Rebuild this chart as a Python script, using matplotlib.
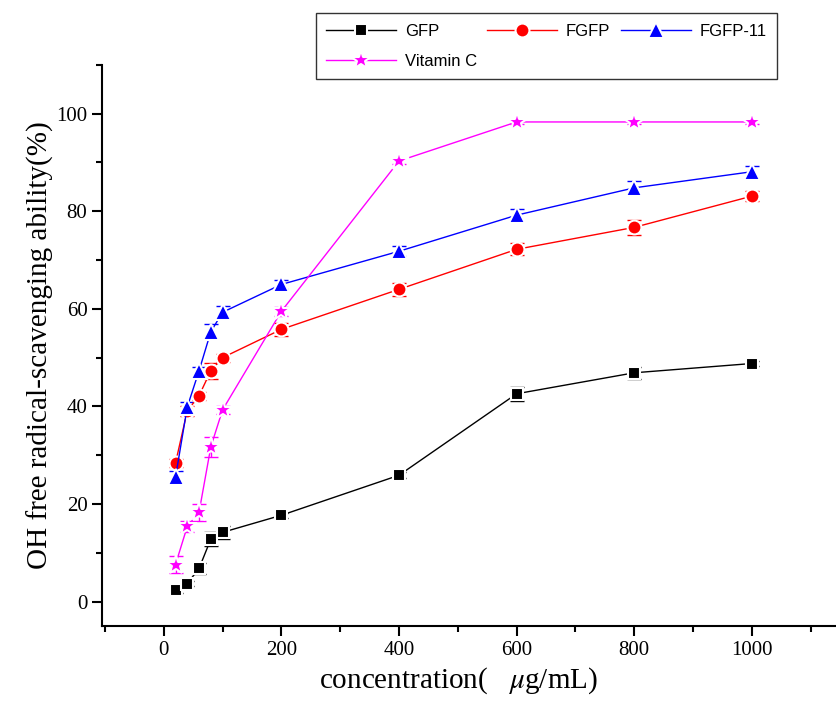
import matplotlib
matplotlib.use("Agg")
import matplotlib.pyplot as plt
import numpy as np
from matplotlib.ticker import MultipleLocator

plt.rcParams["mathtext.fontset"] = "stix"

conc = [20, 40, 60, 80, 100, 200, 400, 600, 800, 1000]
gfp = [2.3, 3.7, 6.8, 12.8, 14.2, 17.7, 25.9, 42.6, 46.9, 48.8]
gfp_err = [0.5, 0.5, 1.2, 1.4, 1.3, 0.5, 0.6, 1.4, 1.2, 0.6]
fgfp = [28.4, 39.1, 42.2, 47.3, 50.0, 55.8, 64.0, 72.2, 76.7, 83.1]
fgfp_err = [0.8, 1.0, 0.8, 1.6, 0.8, 1.4, 1.4, 1.2, 1.6, 1.1]
fgfp11 = [25.5, 39.9, 47.3, 55.3, 59.3, 65.0, 71.8, 79.2, 84.8, 88.1]
fgfp11_err = [1.2, 1.0, 0.8, 1.5, 1.3, 1.0, 1.0, 1.2, 1.4, 1.2]
vitc = [7.6, 15.4, 18.3, 31.7, 39.3, 59.5, 90.3, 98.3, 98.3, 98.3]
vitc_err = [1.8, 1.1, 1.8, 2.0, 0.8, 0.9, 0.6, 0.5, 0.5, 0.5]

labels = ["GFP", "FGFP", "FGFP-11", "Vitamin C"]
colors = ["black", "red", "blue", "magenta"]
markers = ["s", "o", "^", "*"]
msizes = [9, 10, 11, 15]

fig = plt.figure(figsize=(8.36, 7.05), dpi=100)
ax = fig.add_axes([0.122, 0.112, 0.878, 0.796])

series = [(gfp, gfp_err), (fgfp, fgfp_err), (fgfp11, fgfp11_err), (vitc, vitc_err)]
handles = []
for (y, e), lab, c, m, ms in zip(series, labels, colors, markers, msizes):
    ax.errorbar(conc, y, yerr=e, fmt="none", ecolor=c, elinewidth=1, capsize=5, capthick=1, zorder=2)
    h, = ax.plot(conc, y, color=c, lw=1, marker=m, ms=ms, mfc=c, mec="white", mew=1.5, label=lab, zorder=3)
    handles.append(h)

ax.set_xlim(-105, 1143)
ax.set_ylim(-5, 110)
ax.xaxis.set_minor_locator(MultipleLocator(100))
ax.yaxis.set_minor_locator(MultipleLocator(10))
ax.set_yticks([0, 20, 40, 60, 80, 100])
ax.set_xticks([0, 200, 400, 600, 800, 1000])
for s in ["top", "right"]:
    ax.spines[s].set_visible(False)
for s in ["left", "bottom"]:
    ax.spines[s].set_linewidth(1.5)
ax.tick_params(which="major", direction="out", length=7, width=1.5, labelsize=15)
ax.tick_params(which="minor", direction="out", length=4, width=1.5)
for t in ax.get_xticklabels() + ax.get_yticklabels():
    t.set_fontfamily("Liberation Serif")

ax.set_xlabel("concentration(   $\\mu$g/mL)", fontsize=21, fontfamily="Liberation Serif")
ax.xaxis.set_label_coords(0.485, -0.07, transform=ax.transAxes)
ax.set_ylabel("OH free radical-scavenging ability(%)", fontsize=21, fontfamily="Liberation Serif")
ax.yaxis.set_label_coords(-0.066, 0.5, transform=ax.transAxes)

order = [0, 3, 1, 2]
leg = fig.legend(handles=[handles[i] for i in order], loc="lower left",
                 bbox_to_anchor=(0.378, 0.888, 0.551, 0.094),
                 mode="expand", ncol=3, frameon=True, fancybox=False, edgecolor="black",
                 prop={"family": "Liberation Sans", "size": 12}, handlelength=4.2, handletextpad=0.5,
                 borderaxespad=0, labelspacing=0.9, borderpad=0.62)
leg.get_frame().set_linewidth(1.0)

fig.savefig("out.png", dpi=100)
